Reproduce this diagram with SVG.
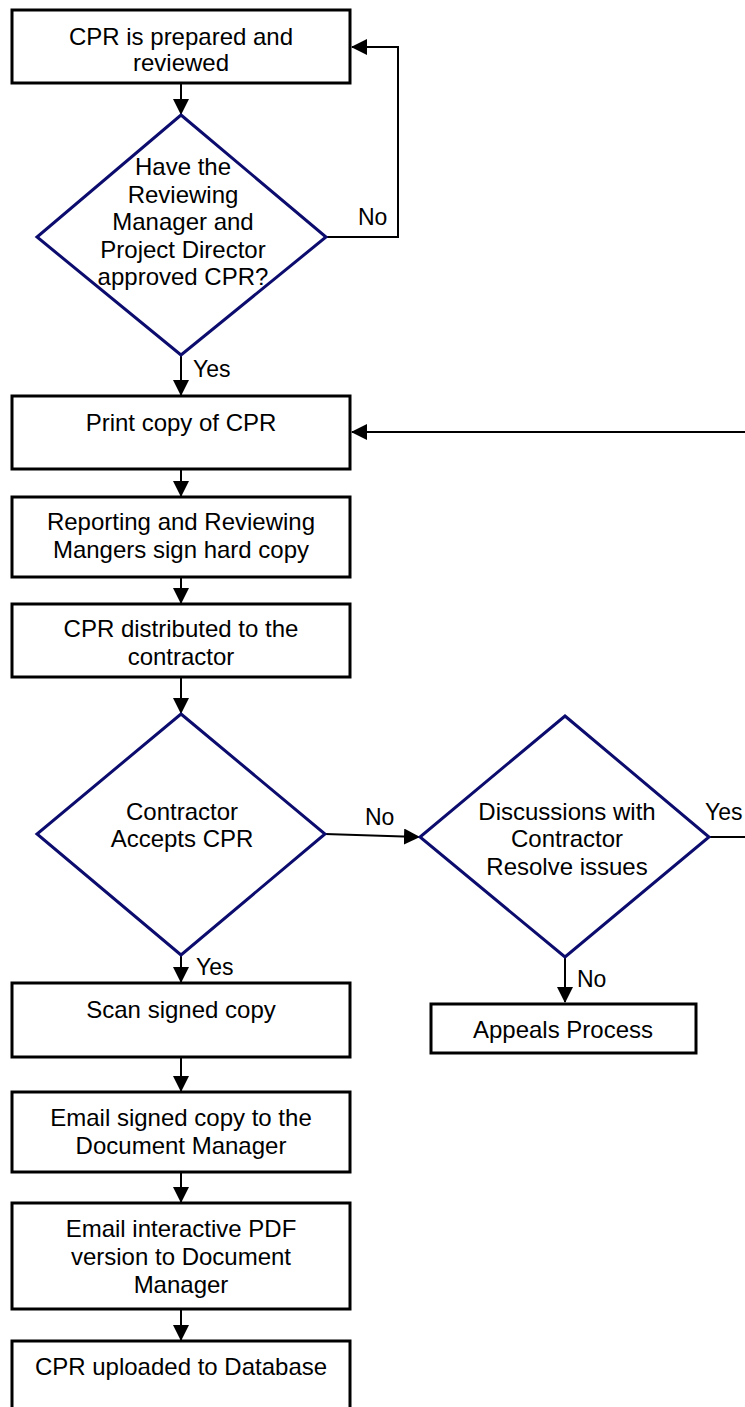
<svg xmlns="http://www.w3.org/2000/svg" width="745" height="1407" viewBox="0 0 745 1407">
<style>
.box{fill:#fff;stroke:#000;stroke-width:3}
.dia{fill:#fff;stroke:#0c0c6e;stroke-width:3}
.con{fill:none;stroke:#000;stroke-width:2}
text{font-family:"Liberation Sans",Arial,sans-serif;font-size:24px;fill:#000}
.t{text-anchor:middle}
.lbl{font-size:23px}
</style>
<defs>
<marker id="ah" markerUnits="userSpaceOnUse" markerWidth="16" markerHeight="16" viewBox="0 0 16 16" refX="15" refY="8" orient="auto">
<path d="M0,0 L16,8 L0,16 Z" fill="#000"/>
</marker>
</defs>
<rect width="745" height="1407" fill="#fff"/>
<g id="connectors">
<line class="con" x1="181" y1="84" x2="181" y2="114" marker-end="url(#ah)"/>
<polyline class="con" points="326,237 398,237 398,47 352,47" marker-end="url(#ah)"/>
<line class="con" x1="181" y1="356" x2="181" y2="395" marker-end="url(#ah)"/>
<line class="con" x1="745" y1="432" x2="352" y2="432" marker-end="url(#ah)"/>
<line class="con" x1="181" y1="470" x2="181" y2="496" marker-end="url(#ah)"/>
<line class="con" x1="181" y1="578" x2="181" y2="603" marker-end="url(#ah)"/>
<line class="con" x1="181" y1="678" x2="181" y2="713" marker-end="url(#ah)"/>
<line class="con" x1="325" y1="834" x2="419" y2="837" marker-end="url(#ah)"/>
<line class="con" x1="709" y1="837" x2="745" y2="837"/>
<line class="con" x1="565" y1="958" x2="565" y2="1002" marker-end="url(#ah)"/>
<line class="con" x1="181" y1="956" x2="181" y2="982" marker-end="url(#ah)"/>
<line class="con" x1="181" y1="1058" x2="181" y2="1091" marker-end="url(#ah)"/>
<line class="con" x1="181" y1="1173" x2="181" y2="1202" marker-end="url(#ah)"/>
<line class="con" x1="181" y1="1310" x2="181" y2="1340" marker-end="url(#ah)"/>
<text class="lbl" x="358" y="225">No</text>
<text class="lbl" x="193" y="377">Yes</text>
<text class="lbl" x="365" y="825">No</text>
<text class="lbl" x="705" y="820">Yes</text>
<text class="lbl" x="577" y="987">No</text>
<text class="lbl" x="196" y="975">Yes</text>
</g>
<g id="n1">
<rect class="box" x="12" y="10" width="338" height="73"/>
<text class="t" x="181" y="45">CPR is prepared and</text>
<text class="t" x="181" y="71">reviewed</text>
</g>
<g id="d1">
<polygon class="dia" points="181,115 326,237 181,355 37,237"/>
<text class="t" x="183" y="175">Have the</text>
<text class="t" x="183" y="203">Reviewing</text>
<text class="t" x="183" y="230">Manager and</text>
<text class="t" x="183" y="258">Project Director</text>
<text class="t" x="183" y="285">approved CPR?</text>
</g>
<g id="n2">
<rect class="box" x="12" y="396" width="338" height="73"/>
<text class="t" x="181" y="431">Print copy of CPR</text>
</g>
<g id="n3">
<rect class="box" x="12" y="497" width="338" height="80"/>
<text class="t" x="181" y="530">Reporting and Reviewing</text>
<text class="t" x="181" y="558">Mangers sign hard copy</text>
</g>
<g id="n4">
<rect class="box" x="12" y="604" width="338" height="73"/>
<text class="t" x="181" y="637">CPR distributed to the</text>
<text class="t" x="181" y="665">contractor</text>
</g>
<g id="d2">
<polygon class="dia" points="181,714 325,834 181,955 37,834"/>
<text class="t" x="182" y="820">Contractor</text>
<text class="t" x="182" y="847">Accepts CPR</text>
</g>
<g id="d3">
<polygon class="dia" points="565,716 709,837 565,957 420,837"/>
<text class="t" x="567" y="820">Discussions with</text>
<text class="t" x="567" y="847">Contractor</text>
<text class="t" x="567" y="875">Resolve issues</text>
</g>
<g id="n5">
<rect class="box" x="431" y="1004" width="265" height="49"/>
<text class="t" x="563" y="1038">Appeals Process</text>
</g>
<g id="n6">
<rect class="box" x="12" y="983" width="338" height="74"/>
<text class="t" x="181" y="1018">Scan signed copy</text>
</g>
<g id="n7">
<rect class="box" x="12" y="1092" width="338" height="80"/>
<text class="t" x="181" y="1126">Email signed copy to the</text>
<text class="t" x="181" y="1154">Document Manager</text>
</g>
<g id="n8">
<rect class="box" x="12" y="1203" width="338" height="106"/>
<text class="t" x="181" y="1237">Email interactive PDF</text>
<text class="t" x="181" y="1265">version to Document</text>
<text class="t" x="181" y="1293">Manager</text>
</g>
<g id="n9">
<rect class="box" x="12" y="1341" width="338" height="80"/>
<text class="t" x="181" y="1375">CPR uploaded to Database</text>
</g>
</svg>
